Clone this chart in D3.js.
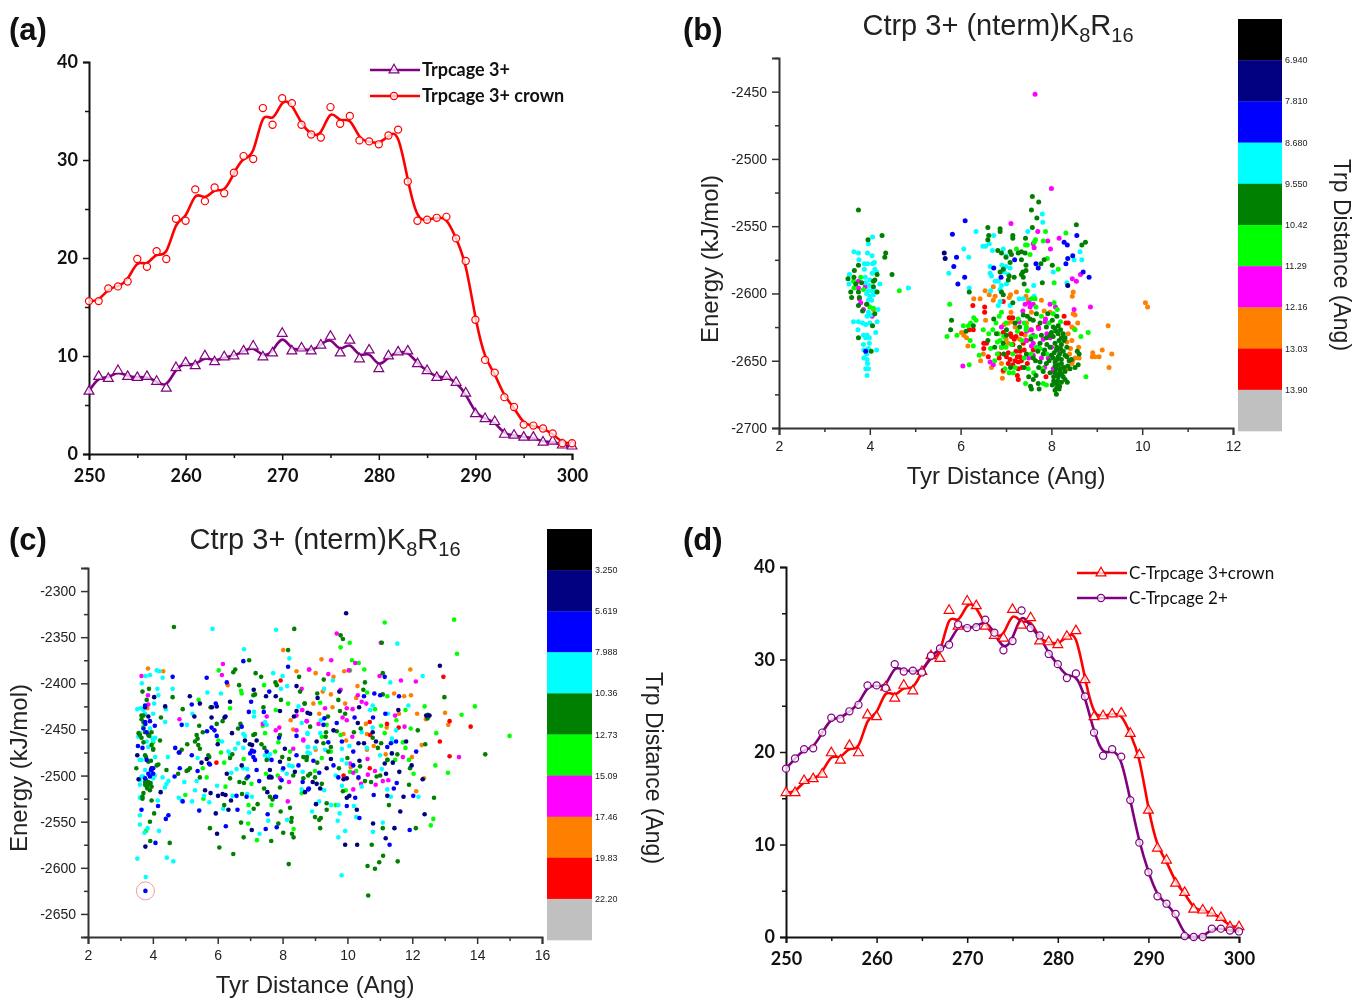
<!DOCTYPE html>
<html lang="en">
<head>
<meta charset="utf-8">
<title>Ctrp 3+ panels</title>
<script src="https://d3js.org/d3.v7.min.js"></script>
<style>
body { margin: 0; background: #fff; }
svg { display: block; filter: blur(0.35px); }
.bold { font-family: Lato, sans-serif; font-weight: 700; }
.sans { font-family: "Liberation Sans", Arial, sans-serif; fill: #222; }
</style>
</head>
<body>
<script>
// x positions for the two line panels
var xVals = d3.range(250, 301);

var crown = [15.6,15.6,16.9,17.1,17.6,19.9,19.1,20.7,19.9,24.0,23.8,27.0,25.8,27.2,26.6,28.7,30.4,30.1,35.3,33.6,36.3,35.8,33.6,32.6,32.3,35.4,33.7,34.5,32.0,31.9,31.6,32.5,33.1,27.8,23.8,23.9,24.1,24.2,22.0,19.7,13.7,9.6,8.3,5.8,4.8,3.0,2.9,2.6,2.1,1.1,1.1];
var trp3 = [6.4,7.9,7.7,8.5,7.9,7.8,7.9,7.4,6.7,8.8,9.3,9.0,10.0,9.4,9.9,10.0,10.5,11.0,9.9,10.3,12.3,10.5,10.8,10.5,11.1,12.0,10.3,11.6,9.7,10.6,8.7,10.0,10.4,10.5,9.2,8.5,7.8,7.9,7.3,6.2,4.1,3.6,3.3,2.0,1.9,1.7,1.7,1.2,1.3,0.9,0.8];
var trp2 = [18.2,19.3,20.3,20.4,22.1,23.7,23.6,24.4,25.1,27.2,27.2,26.9,29.5,28.7,28.8,28.6,30.4,31.2,31.6,33.8,33.4,33.5,34.3,32.9,31.0,32.0,35.3,33.4,32.6,30.6,29.5,28.0,28.5,26.0,22.1,19.6,20.3,19.5,14.8,10.2,7.0,4.4,3.6,2.5,0.1,0,0,0.9,0.9,0.7,0.6];

// colour bands, top to bottom
var bandColors = ["#000000","#000080","#0000ff","#00ffff","#008000","#00ff00","#ff00ff","#ff8000","#ff0000","#c0c0c0"];
var bandLabelsB = ["6.940","7.810","8.680","9.550","10.42","11.29","12.16","13.03","13.90"];
var bandLabelsC = ["3.250","5.619","7.988","10.36","12.73","15.09","17.46","19.83","22.20"];

// panel (b) points: [tyr distance, energy]
var bNavy = [[5.64,-2570],[5.66,-2574],[8.36,-2594]];
var bBlue = [[3.91,-2643],[6.10,-2546],[5.82,-2556],[5.91,-2573],[5.85,-2580],[6.09,-2588],[5.94,-2593],[7.19,-2575],[7.66,-2578],[7.71,-2581],[6.73,-2581],[6.89,-2588],[8.56,-2557],[8.28,-2562],[8.35,-2564],[8.36,-2574],[8.47,-2572],[8.32,-2578],[8.7,-2584],[8.83,-2588]];
var bCyan = [[4.06,-2558],[3.97,-2563],[3.65,-2569],[3.75,-2570],[3.95,-2570],[4.05,-2572],[3.76,-2575],[3.88,-2578],[3.95,-2578],[4.1,-2577],[4.06,-2578],[3.88,-2582],[4.11,-2582],[4.15,-2584],[4.05,-2585],[3.55,-2586],[3.9,-2588],[4.0,-2590],[3.54,-2593],[4.22,-2593],[3.91,-2592],[4.0,-2594],[3.97,-2598],[4.04,-2598],[4.11,-2598],[3.93,-2600],[4.0,-2602],[4.08,-2601],[3.97,-2605],[4.04,-2605],[4.85,-2596],[4.18,-2612],[3.97,-2614],[3.94,-2617],[4.02,-2616],[3.64,-2621],[3.75,-2621],[3.84,-2622],[3.91,-2623],[4.0,-2622],[4.16,-2621],[3.74,-2627],[4.13,-2629],[3.86,-2631],[3.94,-2631],[3.91,-2633],[3.99,-2633],[3.99,-2637],[3.86,-2638],[4.15,-2642],[3.87,-2642],[3.97,-2641],[3.93,-2645],[3.87,-2648],[3.94,-2649],[3.95,-2652],[3.91,-2656],[3.97,-2656],[3.94,-2661],
[6.34,-2554],[6.07,-2567],[6.18,-2573],[5.74,-2585],[6.19,-2596],[6.49,-2565],[6.55,-2565],[6.63,-2563],[6.73,-2557],[6.7,-2568],[6.94,-2567],[7.0,-2572],[7.8,-2541],[7.81,-2547],[7.48,-2554],[6.65,-2580],[6.91,-2579],[7.0,-2580],[7.09,-2581],[6.65,-2585],[6.68,-2587],[6.96,-2584],[7.05,-2586],[6.76,-2591],[6.83,-2591],[6.9,-2594],[7.01,-2593],[6.66,-2598],[6.87,-2597],[7.61,-2594],[7.29,-2604],[7.38,-2604],[7.62,-2602],[6.87,-2606],[7.09,-2609],[6.83,-2609],[8.04,-2584],[8.34,-2592],[8.5,-2575],[8.67,-2575],[8.63,-2569]];
var bGreen = [[3.75,-2538],[4.27,-2557],[3.96,-2560],[4.35,-2570],[4.33,-2573],[3.75,-2579],[3.66,-2583],[4.16,-2586],[4.49,-2586],[3.52,-2589],[3.65,-2588],[3.69,-2593],[3.82,-2592],[4.08,-2591],[4.11,-2590],[3.58,-2599],[3.75,-2599],[4.08,-2595],[4.16,-2599],[3.6,-2603],[3.77,-2603],[3.75,-2609],[3.93,-2608],[3.84,-2613],[4.11,-2615],[4.06,-2624],[3.75,-2633],[4.03,-2643],
[7.58,-2528],[7.72,-2532],[7.56,-2538],[7.68,-2544],[7.58,-2551],[6.6,-2551],[6.87,-2552],[6.87,-2554],[6.62,-2557],[6.6,-2560],[7.15,-2557],[7.15,-2559],[7.43,-2559],[8.55,-2549],[8.75,-2562],[8.67,-2564],[6.82,-2568],[6.9,-2570],[7.09,-2569],[7.12,-2571],[7.27,-2570],[7.34,-2569],[7.42,-2570],[7.0,-2573],[7.34,-2575],[7.09,-2577],[7.44,-2579],[7.84,-2575],[7.77,-2578],[8.02,-2579],[6.94,-2582],[6.87,-2584],[7.44,-2583],[7.37,-2584],[7.34,-2586],[7.38,-2588],[7.07,-2587],[7.18,-2588],[7.05,-2590],[7.8,-2592],[7.4,-2593],[6.9,-2599],[6.94,-2601],[6.19,-2599],[7.15,-2607],[6.73,-2619],[5.8,-2620],[5.78,-2627],
[7.67,-2615],[7.47,-2617],[7.53,-2619],[8.12,-2617],[8.15,-2624],[8.08,-2626],[8.2,-2627],[7.89,-2625],[8.0,-2629],[8.15,-2630],[8.26,-2630],[8.04,-2632],[8.17,-2635],[8.3,-2633],[7.78,-2631],[7.89,-2633],[8.08,-2637],[8.22,-2638],[8.34,-2640],[7.75,-2637],[7.97,-2640],[8.11,-2642],[8.26,-2643],[8.57,-2643],[8.61,-2645],[7.82,-2645],[8.0,-2646],[8.15,-2647],[8.34,-2647],[7.6,-2648],[7.75,-2651],[7.89,-2652],[8.08,-2651],[8.22,-2652],[8.39,-2650],[8.59,-2653],[8.52,-2655],[8.41,-2656],[8.11,-2656],[8.19,-2658],[8.3,-2658],[7.97,-2659],[8.15,-2662],[8.26,-2662],[8.22,-2666],[8.35,-2666],[8.11,-2667],[8.02,-2668],[8.17,-2671],[8.11,-2675],[8.08,-2672],[7.71,-2667],[7.73,-2671],[7.6,-2664],[7.54,-2669],[7.56,-2671],[7.38,-2616],[8.08,-2659],[6.79,-2630],[7.01,-2627],[7.01,-2631],[6.94,-2637],[6.12,-2628],[6.28,-2624],
[8.04,-2625],[8.1,-2628],[7.97,-2631],[8.22,-2633],[8.12,-2640],[8.28,-2635],[8.2,-2641],[8.06,-2644],[8.18,-2645],[8.3,-2646],[8.22,-2649],[8.12,-2649],[8.04,-2648],[7.95,-2650],[8.16,-2653],[8.28,-2655],[8.08,-2654],[8.2,-2656],[8.36,-2654],[8.44,-2649],[8.12,-2660],[8.05,-2662],[8.22,-2660],[8.3,-2664],[8.14,-2665],[8.18,-2669],[8.05,-2665],[8.12,-2670],[7.85,-2642],[7.9,-2638],[7.7,-2643],[7.65,-2650],[7.72,-2655],[7.82,-2658],[7.66,-2661],[7.5,-2662],[7.4,-2655],[7.45,-2645],[7.3,-2640],[7.55,-2634],[7.3,-2625],[7.2,-2622],[7.6,-2620],[7.75,-2622],[7.92,-2615],[8.02,-2620],[6.95,-2645],[7.1,-2655],[6.75,-2640],[6.6,-2635]];
var bLime = [[4.65,-2598],[3.8,-2588],[3.64,-2591],[3.65,-2596],[3.86,-2597],[4.0,-2610],[4.08,-2611],
[5.76,-2608],[7.87,-2554],[8.32,-2555],[7.65,-2560],[7.62,-2562],[7.82,-2561],[7.47,-2564],[7.43,-2564],[7.53,-2571],[7.23,-2567],[7.91,-2574],[8.15,-2582],[8.06,-2592],[7.47,-2598],[7.56,-2604],[8.06,-2607],[7.64,-2604],[7.66,-2610],[6.85,-2617],[6.9,-2614],[7.27,-2619],[6.29,-2618],[6.34,-2620],[6.22,-2622],[6.17,-2624],[6.06,-2624],[6.5,-2627],[6.71,-2627],[6.62,-2630],[5.92,-2631],[5.7,-2632],[6.21,-2635],[6.28,-2639],[6.83,-2630],[6.87,-2635],[6.81,-2636],[6.66,-2641],[6.41,-2646],[6.81,-2645],[6.9,-2640],[7.12,-2638],[7.45,-2625],[7.44,-2627],[7.78,-2617],[8.04,-2615],[8.13,-2612],[8.2,-2621],[8.81,-2629],[8.65,-2632],[8.52,-2627],[7.67,-2640],[7.75,-2641],[7.49,-2656],[7.61,-2659],[7.8,-2656],[6.98,-2656],[7.07,-2659],[7.16,-2659],[6.19,-2653],[7.43,-2667],[8.76,-2662],[7.82,-2667],[7.89,-2668],
[7.4,-2622],[7.55,-2632],[7.35,-2635],[7.0,-2640],[6.95,-2632],[6.75,-2650],[7.15,-2645],[7.4,-2648],[7.55,-2645],[7.65,-2632],[7.25,-2628],[7.95,-2622],[7.0,-2622],[6.78,-2622],[7.9,-2645],[7.2,-2655]];
var bMagenta = [[3.75,-2591],[3.75,-2596],[3.9,-2595],[3.77,-2604],[3.8,-2607],[3.94,-2608],[3.86,-2612],[4.05,-2617],
[7.64,-2452],[8.0,-2522],[7.11,-2548],[7.7,-2554],[8.17,-2559],[7.92,-2561],[7.6,-2563],[7.62,-2566],[7.98,-2567],[8.64,-2586],[8.46,-2589],[8.55,-2591],[8.86,-2610],[8.5,-2612],[7.97,-2608],[8.09,-2610],[7.42,-2608],[7.51,-2607],[7.6,-2608],[7.53,-2610],[7.37,-2613],[7.87,-2619],[7.86,-2621],[7.29,-2621],[7.72,-2626],[6.9,-2625],[7.56,-2627],[7.82,-2634],[7.97,-2633],[7.44,-2635],[7.6,-2637],[7.56,-2639],[7.78,-2648],[7.93,-2648],[8.19,-2643],[8.04,-2656],[8.04,-2658],[6.65,-2651],[6.72,-2653],[6.05,-2654],[7.6,-2646],
[7.45,-2628],[7.6,-2631],[7.7,-2640],[7.5,-2648],[7.9,-2630],[8.0,-2640],[7.85,-2655]];
var bOrange = [[4.08,-2612],[6.54,-2598],[6.29,-2604],[6.43,-2604],[6.63,-2601],[6.72,-2595],[6.76,-2602],[6.72,-2605],[7.23,-2599],[7.1,-2601],[7.07,-2603],[7.44,-2602],[7.49,-2605],[7.78,-2605],[8.48,-2599],[8.46,-2602],[10.07,-2607],[10.12,-2610],[8.48,-2615],[8.52,-2616],[7.84,-2613],[7.97,-2614],[7.56,-2614],[6.55,-2620],[7.11,-2614],[7.11,-2618],[7.12,-2621],[7.05,-2622],[6.96,-2623],[9.25,-2624],[8.58,-2622],[8.45,-2625],[8.5,-2626],[6.02,-2629],[6.07,-2631],[6.13,-2633],[6.16,-2639],[8.37,-2630],[8.45,-2635],[8.34,-2636],[7.53,-2627],[7.42,-2631],[7.05,-2637],[7.15,-2638],[8.42,-2641],[9.12,-2642],[8.91,-2644],[9.33,-2645],[8.9,-2647],[8.96,-2647],[9.05,-2647],[8.47,-2650],[8.52,-2648],[8.61,-2648],[8.45,-2652],[8.26,-2655],[8.34,-2656],[9.27,-2655],[6.44,-2650],[6.5,-2645],[6.68,-2655],[6.94,-2658],[6.92,-2663],
[7.3,-2634],[7.45,-2622],[7.2,-2625],[8.6,-2640],[8.4,-2645],[7.0,-2634],[6.9,-2652]];
var bRed = [[6.27,-2609],[6.53,-2610],[6.53,-2614],[7.07,-2618],[7.15,-2618],[8.28,-2617],[8.32,-2622],[8.37,-2622],[6.94,-2606],[6.19,-2627],[6.28,-2627],[6.94,-2629],[7.22,-2632],[7.12,-2632],[7.34,-2630],[6.51,-2637],[6.57,-2637],[6.51,-2641],[7.05,-2644],[7.01,-2647],[6.85,-2648],[6.61,-2647],[7.09,-2649],[7.2,-2650],[7.27,-2651],[7.34,-2650],[7.22,-2643],[7.31,-2643],[7.47,-2652],[7.31,-2647],[6.94,-2657],[7.27,-2656],[7.25,-2661],[7.27,-2664],[7.88,-2662],[7.18,-2634],[7.38,-2637],[7.71,-2625],[6.85,-2645],
[7.15,-2638],[7.4,-2642],[7.05,-2652],[7.15,-2653],[7.35,-2655],[7.25,-2647],[7.45,-2635],[6.9,-2640],[7.1,-2630],[7.6,-2642]];

// panel (c) points: [tyr distance, energy]
var cNavy = [[4.04,-2415],[5.14,-2414],[5.45,-2422],[6.38,-2420],[5.82,-2426],[5.97,-2425],[4.38,-2425],[7.11,-2407],[7.49,-2414],[7.79,-2414],[8.43,-2403],[8.77,-2432],[8.43,-2430],[7.92,-2430],[5.28,-2436],[5.81,-2437],[6.24,-2436],[6.21,-2437],[3.86,-2436],[8.35,-2436],[6.44,-2454],[7.2,-2462],[6.84,-2462],[6.0,-2466],[6.99,-2466],[7.06,-2467],[3.52,-2478],[4.82,-2475],[8.07,-2471],[5.73,-2487],[5.66,-2482],[5.5,-2486],[7.92,-2485],[6.74,-2489],[6.28,-2498],[7.61,-2494],[7.58,-2502],[7.66,-2502],[3.56,-2504],[8.38,-2496],[4.24,-2518],[5.61,-2516],[5.78,-2519],[6.01,-2522],[6.15,-2520],[6.24,-2521],[6.41,-2527],[6.33,-2537],[5.94,-2541],[7.05,-2559],[5.98,-2563],[3.77,-2577],[7.77,-2523],[7.53,-2518],[8.69,-2518],[7.61,-2501],[3.76,-2426],[3.96,-2492],
[9.96,-2324],[12.85,-2381],[11.57,-2429],[12.43,-2435],[12.53,-2435],[10.36,-2426],[10.32,-2443],[9.75,-2409],[9.08,-2416],[8.85,-2433],[9.57,-2451],[10.78,-2453],[10.34,-2465],[10.51,-2465],[10.88,-2463],[11.81,-2463],[9.05,-2463],[11.37,-2476],[9.49,-2482],[10.37,-2484],[11.4,-2486],[11.15,-2487],[11.98,-2489],[9.36,-2492],[11.6,-2496],[11.19,-2498],[9.88,-2504],[9.98,-2503],[12.32,-2504],[8.93,-2507],[9.05,-2509],[9.16,-2514],[9.98,-2524],[10.06,-2522],[11.23,-2522],[11.73,-2523],[9.03,-2531],[10.29,-2537],[11.63,-2539],[12.38,-2542],[10.79,-2552],[11.45,-2557],[11.18,-2568],[9.93,-2575],[10.3,-2575]];
var cBlue = [[4.61,-2393],[5.66,-2394],[6.79,-2376],[8.17,-2382],[6.28,-2399],[7.59,-2409],[7.03,-2420],[5.2,-2423],[5.94,-2422],[6.96,-2431],[7.42,-2431],[3.76,-2424],[3.91,-2441],[3.77,-2444],[4.89,-2445],[5.81,-2448],[5.9,-2451],[5.67,-2452],[5.97,-2457],[6.74,-2447],[4.06,-2446],[3.71,-2449],[7.89,-2459],[8.43,-2457],[3.54,-2468],[3.68,-2470],[4.69,-2470],[4.8,-2475],[5.2,-2478],[7.05,-2473],[7.12,-2474],[7.0,-2476],[7.1,-2480],[7.15,-2483],[7.51,-2474],[7.66,-2483],[8.43,-2478],[8.49,-2489],[3.81,-2483],[5.76,-2488],[4.83,-2492],[4.01,-2492],[3.94,-2494],[5.38,-2495],[7.2,-2494],[8.02,-2492],[6.94,-2501],[4.67,-2501],[3.91,-2501],[3.76,-2503],[7.28,-2506],[7.97,-2505],[8.79,-2515],[7.8,-2523],[6.58,-2522],[4.92,-2528],[6.89,-2523],[5.43,-2538],[6.61,-2537],[4.16,-2533],[3.65,-2537],[4.48,-2543],[4.4,-2547],[7.54,-2542],[6.25,-2555],[7.48,-2558],[7.82,-2556],[4.08,-2573],[3.77,-2625],[3.81,-2453],[3.76,-2442],[3.86,-2498],[4.01,-2498],[3.96,-2494],
[11.15,-2393],[10.83,-2411],[11.01,-2413],[10.51,-2414],[11.59,-2414],[10.22,-2437],[10.79,-2437],[11.17,-2433],[9.29,-2438],[9.67,-2443],[9.26,-2445],[9.83,-2463],[9.41,-2464],[10.18,-2474],[12.12,-2474],[11.23,-2469],[11.5,-2463],[11.34,-2465],[8.95,-2484],[9.57,-2489],[10.18,-2489],[9.13,-2497],[9.72,-2502],[10.34,-2502],[8.62,-2507],[8.81,-2514],[10.24,-2524],[10.81,-2521],[11.43,-2514],[11.52,-2508],[12.03,-2522],[9.98,-2533],[10.37,-2546],[11.92,-2559],[11.3,-2575]];
var cCyan = [[5.84,-2341],[7.8,-2342],[6.81,-2363],[8.21,-2373],[4.12,-2386],[4.2,-2387],[3.91,-2391],[3.78,-2392],[4.3,-2394],[3.66,-2400],[7.71,-2389],[8.0,-2392],[4.14,-2406],[4.61,-2406],[5.68,-2410],[6.1,-2411],[4.17,-2413],[8.14,-2403],[7.95,-2406],[4.04,-2422],[4.4,-2428],[3.52,-2428],[3.63,-2427],[3.71,-2429],[4.01,-2433],[5.22,-2433],[7.12,-2431],[7.12,-2436],[4.38,-2442],[5.05,-2445],[7.46,-2442],[7.51,-2445],[8.49,-2425],[6.79,-2455],[6.84,-2457],[4.07,-2459],[4.01,-2462],[3.55,-2458],[6.13,-2463],[6.63,-2465],[6.54,-2471],[6.79,-2470],[6.33,-2474],[6.38,-2478],[4.46,-2480],[7.61,-2477],[7.46,-2478],[7.56,-2481],[3.6,-2483],[5.38,-2481],[8.77,-2454],[8.79,-2469],[8.84,-2476],[6.79,-2492],[6.91,-2493],[6.58,-2493],[6.42,-2497],[8.2,-2489],[8.31,-2490],[8.0,-2494],[8.13,-2498],[3.65,-2501],[4.01,-2503],[4.3,-2502],[4.48,-2506],[4.42,-2509],[4.97,-2507],[5.35,-2506],[3.6,-2510],[4.37,-2513],[5.98,-2511],[5.3,-2516],[5.58,-2522],[6.46,-2522],[6.91,-2520],[7.05,-2523],[4.8,-2524],[4.89,-2527],[5.74,-2529],[5.21,-2528],[3.6,-2524],[4.15,-2527],[6.17,-2536],[6.97,-2540],[3.6,-2543],[7.56,-2549],[8.14,-2548],[3.6,-2553],[3.84,-2557],[4.19,-2560],[3.74,-2562],[7.29,-2563],[3.52,-2590],[4.43,-2589],[4.63,-2593],[3.78,-2610],
[3.6,-2454],[3.91,-2449],[3.99,-2460],[3.65,-2483],[3.71,-2501],[3.96,-2498],[4.06,-2500],[3.6,-2505],[3.76,-2494],[3.81,-2463],[3.86,-2469],[3.76,-2433],[4.07,-2480],[3.65,-2523],
[11.54,-2357],[11.32,-2399],[12.32,-2392],[9.55,-2397],[9.28,-2406],[10.78,-2424],[11.88,-2424],[10.7,-2429],[11.25,-2433],[9.18,-2440],[8.59,-2443],[9.16,-2454],[8.77,-2455],[10.44,-2453],[11.5,-2451],[10.78,-2448],[11.37,-2460],[11.37,-2464],[8.77,-2469],[8.77,-2475],[9.0,-2470],[10.06,-2468],[9.83,-2471],[10.6,-2470],[11.01,-2478],[9.31,-2472],[9.83,-2483],[9.98,-2487],[8.62,-2496],[9.64,-2500],[11.06,-2493],[10.44,-2512],[9.83,-2511],[11.23,-2515],[9.28,-2516],[8.59,-2515],[11.34,-2523],[12.19,-2523],[9.13,-2528],[9.5,-2532],[9.72,-2532],[10.2,-2533],[8.91,-2539],[9.76,-2541],[10.27,-2545],[9.7,-2549],[11.09,-2551],[9.93,-2560],[10.79,-2561],[9.72,-2567],[9.82,-2608]];
var cGreen = [[4.65,-2339],[8.36,-2341],[8.17,-2364],[6.97,-2375],[6.54,-2385],[6.48,-2388],[7.17,-2389],[7.34,-2393],[8.51,-2393],[7.78,-2399],[7.82,-2402],[6.66,-2402],[3.88,-2406],[3.68,-2409],[4.61,-2415],[7.15,-2412],[7.1,-2413],[8.54,-2409],[7.95,-2418],[3.81,-2418],[8.68,-2422],[4.92,-2428],[3.71,-2435],[4.25,-2437],[5.78,-2426],[7.41,-2426],[3.65,-2439],[5.97,-2444],[6.15,-2441],[6.7,-2444],[6.63,-2449],[5.43,-2446],[5.54,-2453],[3.56,-2454],[3.86,-2456],[3.96,-2453],[5.35,-2456],[5.3,-2463],[5.38,-2460],[7.1,-2456],[7.15,-2455],[7.92,-2456],[4.22,-2462],[3.71,-2464],[5.06,-2466],[4.89,-2472],[5.45,-2471],[5.4,-2467],[7.35,-2466],[7.44,-2470],[5.71,-2478],[5.74,-2480],[6.45,-2477],[6.38,-2481],[7.51,-2483],[7.99,-2480],[8.2,-2482],[8.64,-2480],[8.74,-2483],[3.76,-2478],[4.01,-2472],[3.86,-2485],[4.17,-2488],[3.49,-2492],[4.42,-2494],[5.14,-2492],[5.09,-2494],[5.04,-2495],[4.78,-2498],[5.45,-2502],[6.38,-2503],[6.67,-2507],[6.89,-2503],[6.81,-2508],[8.33,-2500],[8.64,-2503],[8.79,-2500],[3.76,-2507],[3.86,-2510],[3.81,-2512],[3.96,-2512],[3.91,-2516],[3.71,-2519],[3.96,-2527],[3.68,-2525],[7.43,-2514],[7.92,-2513],[7.61,-2523],[7.69,-2526],[6.75,-2520],[6.2,-2532],[7.23,-2531],[7.11,-2536],[8.23,-2535],[7.94,-2539],[4.04,-2541],[8.28,-2546],[8.27,-2550],[7.87,-2552],[3.91,-2550],[6.72,-2551],[5.76,-2557],[8.02,-2562],[8.29,-2563],[8.34,-2567],[6.8,-2567],[7.65,-2571],[3.92,-2571],[4.52,-2573],[6.05,-2578],[6.48,-2585],[8.19,-2596],
[3.6,-2456],[3.65,-2459],[3.89,-2457],[3.96,-2467],[3.79,-2480],[3.94,-2484],[4.12,-2489],[3.79,-2505],[3.86,-2507],[3.89,-2509],[3.83,-2514],[3.93,-2508],[3.76,-2510],[3.68,-2523],[3.71,-2442],[3.65,-2435],[3.76,-2453],[4.01,-2471],
[9.79,-2348],[9.86,-2352],[11.06,-2356],[9.27,-2396],[11.09,-2389],[10.54,-2399],[10.49,-2407],[9.07,-2411],[11.09,-2412],[9.72,-2418],[12.99,-2415],[8.68,-2422],[9.77,-2430],[9.93,-2433],[9.4,-2436],[12.48,-2434],[12.47,-2438],[8.85,-2447],[10.41,-2449],[12.17,-2451],[9.34,-2453],[9.67,-2452],[10.2,-2453],[10.78,-2459],[11.04,-2465],[9.33,-2458],[9.26,-2465],[12.4,-2466],[10.94,-2470],[9.49,-2469],[9.41,-2474],[8.75,-2480],[9.07,-2486],[10.0,-2481],[14.25,-2477],[11.54,-2477],[11.23,-2483],[10.39,-2490],[9.74,-2492],[11.93,-2492],[8.85,-2498],[9.0,-2502],[11.01,-2500],[10.9,-2501],[10.54,-2506],[9.21,-2509],[10.73,-2507],[11.9,-2510],[9.86,-2517],[12.67,-2524],[9.36,-2530],[11.28,-2532],[9.36,-2537],[9.0,-2545],[9.18,-2546],[9.13,-2548],[9.16,-2557],[11.09,-2557],[12.11,-2557],[10.75,-2575],[11.1,-2587],[10.98,-2594],[11.55,-2593],[10.62,-2598],[10.85,-2601],[10.64,-2630]];
var cLime = [[6.03,-2386],[7.43,-2402],[6.72,-2408],[6.74,-2411],[5.41,-2418],[6.38,-2427],[8.17,-2422],[7.79,-2429],[7.39,-2446],[7.46,-2454],[6.02,-2462],[7.87,-2464],[8.23,-2474],[6.1,-2475],[7.77,-2474],[6.8,-2482],[6.2,-2486],[5.54,-2492],[5.66,-2502],[7.85,-2500],[7.49,-2498],[7.04,-2509],[6.24,-2512],[5.0,-2521],[5.56,-2525],[6.95,-2532],[7.66,-2532],[6.94,-2552],[3.79,-2560],[8.34,-2558],[7.21,-2570],[3.71,-2447],[4.01,-2464],
[11.15,-2334],[13.29,-2331],[10.07,-2356],[9.79,-2361],[13.38,-2368],[10.14,-2375],[10.35,-2378],[10.08,-2386],[10.52,-2385],[10.61,-2410],[11.23,-2414],[9.16,-2421],[10.85,-2428],[11.79,-2429],[12.38,-2425],[13.93,-2425],[13.52,-2434],[11.51,-2440],[11.04,-2446],[9.36,-2445],[11.95,-2449],[11.15,-2454],[12.74,-2454],[15.0,-2457],[9.79,-2456],[9.21,-2458],[11.71,-2464],[11.79,-2470],[9.49,-2474],[9.21,-2481],[11.24,-2483],[11.47,-2483],[11.9,-2483],[12.71,-2489],[10.08,-2496],[12.04,-2498],[13.1,-2497],[9.0,-2495],[9.95,-2516],[9.64,-2532],[12.65,-2547],[12.57,-2554],[8.59,-2519],[10.27,-2495]];
var cMagenta = [[3.65,-2392],[6.16,-2379],[6.13,-2391],[3.85,-2413],[4.82,-2439],[3.86,-2423],[8.82,-2385],[8.6,-2429],[7.39,-2444],[7.51,-2436],[7.79,-2451],[7.9,-2448],[8.43,-2435],[8.43,-2451],[8.74,-2441],[8.64,-2461],[8.33,-2471],[7.92,-2503],[8.2,-2507],[8.16,-2528],
[9.67,-2346],[10.24,-2378],[11.03,-2356],[9.5,-2375],[8.82,-2385],[9.41,-2390],[10.04,-2386],[10.99,-2392],[11.65,-2397],[12.11,-2398],[8.59,-2406],[9.79,-2407],[10.32,-2413],[10.44,-2420],[10.58,-2422],[8.61,-2429],[9.31,-2427],[9.98,-2427],[10.16,-2428],[11.47,-2435],[8.75,-2441],[9.85,-2437],[9.98,-2440],[9.11,-2444],[11.76,-2447],[10.15,-2458],[8.64,-2462],[13.44,-2480],[11.71,-2480],[10.62,-2482],[10.08,-2487],[10.85,-2495],[10.63,-2499],[10.18,-2497],[11.26,-2505],[11.09,-2506],[10.42,-2509],[10.87,-2510],[10.18,-2515]];
var cOrange = [[3.85,-2384],[4.32,-2387],[8.02,-2364],[8.43,-2387],[6.31,-2402],[3.83,-2427],[8.25,-2440],[8.33,-2450],
[9.2,-2374],[9.02,-2389],[9.9,-2387],[11.94,-2385],[9.57,-2393],[10.31,-2403],[9.24,-2409],[9.49,-2412],[11.44,-2411],[11.75,-2414],[11.96,-2413],[10.27,-2416],[8.95,-2422],[9.93,-2422],[9.54,-2426],[12.15,-2433],[11.59,-2433],[13.01,-2432],[12.42,-2439],[9.13,-2433],[13.11,-2445],[10.57,-2444],[11.21,-2448],[10.6,-2455],[9.88,-2455],[9.96,-2462],[12.29,-2467],[10.81,-2468],[11.18,-2477],[11.99,-2480],[10.6,-2472],[10.1,-2491],[12.36,-2503],[10.34,-2503],[12.12,-2517],[9.02,-2472]];
var cRed = [[7.94,-2397],[5.96,-2486],[12.96,-2393],[11.22,-2444],[11.58,-2448],[10.69,-2442],[13.15,-2441],[13.8,-2447],[12.85,-2463],[13.15,-2479],[10.7,-2456],[10.69,-2492],[9.88,-2500]];

var purple = "#800080", red = "#ff0000";

var svg = d3.select("body").append("svg")
  .attr("width", 1354)
  .attr("height", 999);

// tick labels in the picture use a plain hyphen
function fmt(d) { return String(d); }

// axis with major ticks labelled and minor ticks unlabelled
function drawAxes(x, y, xMajor, xMinor, yMajor, yMinor, opt) {
  var g = svg.append("g");
  var bottom = y.range()[0], left = x.range()[0];

  var xa = g.append("g").attr("transform", "translate(0," + bottom + ")")
    .call(d3.axisBottom(x).tickValues(xMajor).tickSize(opt.major).tickPadding(opt.xPad).tickFormat(fmt));
  xa.append("g").attr("class", "minor").call(d3.axisBottom(x).tickValues(xMinor).tickSize(opt.minor).tickFormat(""));

  var ya = g.append("g").attr("transform", "translate(" + left + ",0)")
    .call(d3.axisLeft(y).tickValues(yMajor).tickSize(opt.major).tickPadding(opt.yPad).tickFormat(fmt));
  ya.append("g").attr("class", "minor").call(d3.axisLeft(y).tickValues(yMinor).tickSize(opt.minor).tickFormat(""));

  g.selectAll("path.domain").attr("stroke", opt.color).attr("stroke-width", opt.width);
  g.selectAll("line").attr("stroke", opt.color).attr("stroke-width", opt.width * 0.75);
  g.selectAll("text").attr("fill", opt.textColor).attr("class", opt.cls).style("font-size", opt.size + "px");
  // the minor groups carry their own empty domain, hide it
  g.selectAll(".minor path.domain").attr("stroke", "none");
  return g;
}

var lineOpt = { major: 6, minor: 4, xPad: 9, yPad: 5, color: "#111", width: 2, textColor: "#111", cls: "bold", size: 18 };
var scatOpt = { major: 7, minor: 4, xPad: 6, yPad: 5, color: "#333", width: 2, textColor: "#333", cls: "sans", size: 14 };

function linePanel(x0, x1, y0, y1, series, legend) {
  var x = d3.scaleLinear().domain([250, 300]).range([x0, x1]);
  var y = d3.scaleLinear().domain([0, 40]).range([y0, y1]);
  drawAxes(x, y, [250,260,270,280,290,300], [255,265,275,285,295], [0,10,20,30,40], [5,15,25,35], lineOpt);

  var line = d3.line().x(function(d, i) { return x(xVals[i]); }).y(function(d) { return y(d); }).curve(d3.curveBasis);

  series.forEach(function(s) {
    svg.append("path").datum(s.values)
      .attr("fill", "none").attr("stroke", s.color).attr("stroke-width", 2.6)
      .attr("d", line);
  });
  series.forEach(function(s) {
    var m = svg.append("g").selectAll("path").data(s.values).enter().append("path")
      .attr("transform", function(d, i) { return "translate(" + x(xVals[i]) + "," + y(d) + ")"; });
    marker(m, s);
  });

  series.forEach(function(s, i) {
    var ly = legend.y + i * legend.dy;
    svg.append("line").attr("x1", legend.x).attr("x2", legend.x + 50).attr("y1", ly).attr("y2", ly)
      .attr("stroke", s.color).attr("stroke-width", 2.6);
    var m = svg.append("g").selectAll("path").data([0]).enter().append("path")
      .attr("transform", "translate(" + (legend.x + 24) + "," + ly + ")");
    marker(m, s);
    svg.append("text").attr("x", legend.x + 52).attr("y", ly + 6)
      .attr("fill", "#111").style("font-family", "Lato, sans-serif").style("font-size", legend.size + "px")
      .style("font-weight", legend.weight).text(s.name);
  });
}

function marker(sel, s) {
  sel.attr("d", d3.symbol().type(s.shape).size(s.shape === d3.symbolCircle ? 40 : 42))
    .attr("fill", "#fff").attr("fill-opacity", 0.75).attr("stroke", s.color).attr("stroke-width", 1.2);
}

function scatterPanel(x, y, xMajor, xMinor, yMajor, yMinor, groups, r) {
  drawAxes(x, y, xMajor, xMinor, yMajor, yMinor, scatOpt);
  groups.forEach(function(g) {
    svg.append("g").selectAll("circle").data(g.pts).enter().append("circle")
      .attr("cx", function(d) { return x(d[0]); })
      .attr("cy", function(d) { return y(d[1]); })
      .attr("r", r)
      .attr("fill", g.color);
  });
}

function colorBar(x0, x1, y0, y1, labels) {
  var band = d3.scaleBand().domain(d3.range(bandColors.length)).range([y0, y1]);
  svg.append("g").selectAll("rect").data(bandColors).enter().append("rect")
    .attr("x", x0).attr("width", x1 - x0)
    .attr("y", function(d, i) { return band(i); })
    .attr("height", band.bandwidth() + 0.3)
    .attr("fill", function(d) { return d; });
  svg.append("g").selectAll("text").data(labels).enter().append("text")
    .attr("class", "sans")
    .attr("x", x1 + 3)
    .attr("y", function(d, i) { return band(i + 1) + 3; })
    .style("font-size", "9px")
    .text(function(d) { return d; });
}

function title(cx, by) {
  var t = svg.append("text").attr("class", "sans").attr("x", cx).attr("y", by)
    .attr("text-anchor", "middle").style("font-size", "29px");
  t.append("tspan").text("Ctrp 3+ (nterm)K");
  t.append("tspan").attr("dy", 7).style("font-size", "20px").text("8");
  t.append("tspan").attr("dy", -7).text("R");
  t.append("tspan").attr("dy", 7).style("font-size", "20px").text("16");
}

function label(txt, x, y, rot, size) {
  svg.append("text").attr("class", "sans")
    .attr("transform", "translate(" + x + "," + y + ") rotate(" + rot + ")")
    .attr("text-anchor", "middle").style("font-size", size + "px").text(txt);
}

function letter(txt, x, y) {
  svg.append("text").attr("x", x).attr("y", y)
    .style("font-family", "'Liberation Sans', Arial, sans-serif").style("font-weight", 700)
    .style("font-size", "31px").attr("fill", "#111").text(txt);
}

// (a)
linePanel(89, 572, 454, 62, [
  { name: "Trpcage 3+", values: trp3, color: purple, shape: d3.symbolTriangle },
  { name: "Trpcage 3+ crown", values: crown, color: red, shape: d3.symbolCircle }
], { x: 370, y: 70, dy: 26, size: 18, weight: 700 });

// (d)
linePanel(786, 1239, 937, 567, [
  { name: "C-Trpcage 3+crown", values: crown, color: red, shape: d3.symbolTriangle },
  { name: "C-Trpcage 2+", values: trp2, color: purple, shape: d3.symbolCircle }
], { x: 1077, y: 573, dy: 25, size: 17, weight: 400 });

// (b)
var xB = d3.scaleLinear().domain([2, 12]).range([779, 1233]);
var yB = d3.scaleLinear().domain([-2700, -2425]).range([428, 58]);
scatterPanel(xB, yB, [2,4,6,8,10,12], [3,5,7,9,11],
  [-2700,-2650,-2600,-2550,-2500,-2450], [-2675,-2625,-2575,-2525,-2475,-2425],
  [{color:bandColors[7],pts:bOrange},{color:bandColors[8],pts:bRed},{color:bandColors[6],pts:bMagenta},{color:bandColors[3],pts:bCyan},{color:bandColors[2],pts:bBlue},{color:bandColors[1],pts:bNavy},{color:bandColors[5],pts:bLime},{color:bandColors[4],pts:bGreen}], 2.5);
colorBar(1238, 1282, 19, 431, bandLabelsB);

// (c)
var xC = d3.scaleLinear().domain([2, 16]).range([88, 542]);
var yC = d3.scaleLinear().domain([-2675, -2275]).range([937, 568]);
scatterPanel(xC, yC, [2,4,6,8,10,12,14,16], [3,5,7,9,11,13,15],
  [-2650,-2600,-2550,-2500,-2450,-2400,-2350,-2300], [-2675,-2625,-2575,-2525,-2475,-2425,-2375,-2325,-2275],
  [{color:bandColors[7],pts:cOrange},{color:bandColors[8],pts:cRed},{color:bandColors[5],pts:cLime},{color:bandColors[6],pts:cMagenta},{color:bandColors[3],pts:cCyan},{color:bandColors[4],pts:cGreen},{color:bandColors[1],pts:cNavy},{color:bandColors[2],pts:cBlue}], 2.3);
colorBar(547, 592, 529, 940, bandLabelsC);

// circled outlier in (c)
svg.append("circle").attr("cx", xC(3.77)).attr("cy", yC(-2625)).attr("r", 9)
  .attr("fill", "none").attr("stroke", "#f08080").attr("stroke-width", 0.8);

title(998, 35);
title(325, 549);

label("Tyr Distance (Ang)", 1006, 484, 0, 24);
label("Energy (kJ/mol)", 718, 259, -90, 24);
label("Trp Distance (Ang)", 1334, 255, 90, 23);
label("Tyr Distance (Ang)", 315, 993, 0, 24);
label("Energy (kJ/mol)", 27, 768, -90, 24);
label("Trp Distance (Ang)", 646, 768, 90, 23);

letter("(a)", 9, 40);
letter("(b)", 683, 40);
letter("(c)", 9, 550);
letter("(d)", 683, 550);
</script>
</body>
</html>
